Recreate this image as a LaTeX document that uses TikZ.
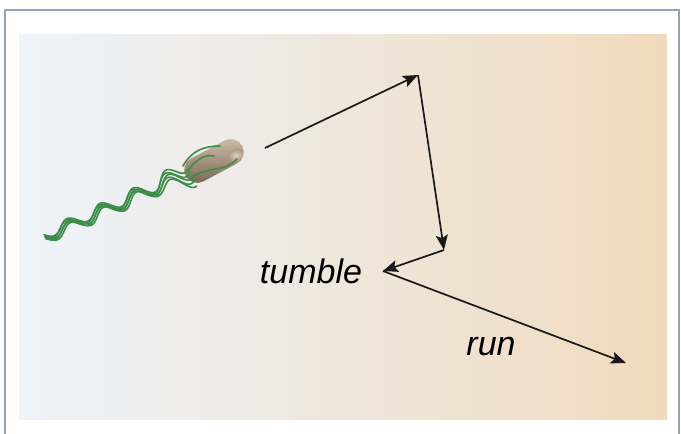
\documentclass[tikz,border=0pt]{standalone}
\usepackage{fontspec}
\setmainfont{Liberation Sans}
\usetikzlibrary{arrows.meta}
\definecolor{framegray}{HTML}{8FA4BD}
\definecolor{panelblue}{HTML}{EEF3FA}
\definecolor{panelmid}{HTML}{EDE8E2}
\definecolor{paneltan}{HTML}{F0DABD}
\definecolor{flagellum}{HTML}{3E8C4A}
\definecolor{celllight}{HTML}{D2C2AC}
\definecolor{cellmid}{HTML}{A68E74}
\definecolor{celldark}{HTML}{76624C}

\begin{document}
\begin{tikzpicture}[
  x=1pt, y=-1pt,
  runarrow/.style={-{Stealth[length=15pt,width=12pt,inset=3pt]},line width=1.7pt,draw=black!90},
  lbl/.style={font=\fontsize{34}{40}\selectfont\itshape,inner sep=0pt},
  strand/.style={draw=flagellum,line width=1.6pt,line cap=round}
]
\useasboundingbox (0,0) rectangle (681,434);
% frame and shaded panel
\draw[framegray,line width=1.5pt] (5,434) -- (5,10) -- (679,10) -- (679,434);
\shade[left color=panelblue,middle color=panelmid,right color=paneltan] (19,34) rectangle (667,419);

% the cell
\begin{scope}[shift={(214,161)},rotate=28]
  \shade[top color=celllight,middle color=cellmid,bottom color=celldark,rounded corners=13pt]
    (-32,-13) rectangle (32,13);
  \shade[inner color=white!80!celllight,outer color=cellmid,opacity=0.6] (22,5) ellipse (8 and 6);
\end{scope}

% flagella bundle
\foreach \k/\ph in {-1/0,-0.5/12,0/-8,0.5/6,1/-14}{
  \draw[strand] plot[domain=0:0.97,samples=90,smooth,variable=\t]
    ({45+150*\t+((5+2*\t)*sin(1620*\t+\ph)+\k*(2.5+30*max(\t-0.75,0)))*0.409},
     {237-67*\t+((5+2*\t)*sin(1620*\t+\ph)+\k*(2.5+30*max(\t-0.75,0)))*0.915});
}
% strands wound over the cell
\draw[strand] (183,166) .. controls (192,150) and (205,146) .. (220,146);
\draw[strand] (186,172) .. controls (196,160) and (204,154) .. (214,156);
\draw[strand] (190,178) .. controls (208,166) and (226,172) .. (237,159);

% path of the cell
\coordinate (start) at (265,148);
\coordinate (turnA) at (418,75);
\coordinate (turnB) at (444,250);
\coordinate (turnC) at (383,271);
\coordinate (finish) at (626,363);
\draw[runarrow] (start) -- (turnA);
\draw[runarrow] (turnA) -- (turnB);
\draw[runarrow] (turnB) -- (turnC);
\draw[runarrow] (turnC) -- (finish);

\node[lbl,anchor=base] (tumble) at (311,283) {tumble};
\node[lbl,anchor=base] (run) at (491,355) {run};
\end{tikzpicture}
\end{document}
